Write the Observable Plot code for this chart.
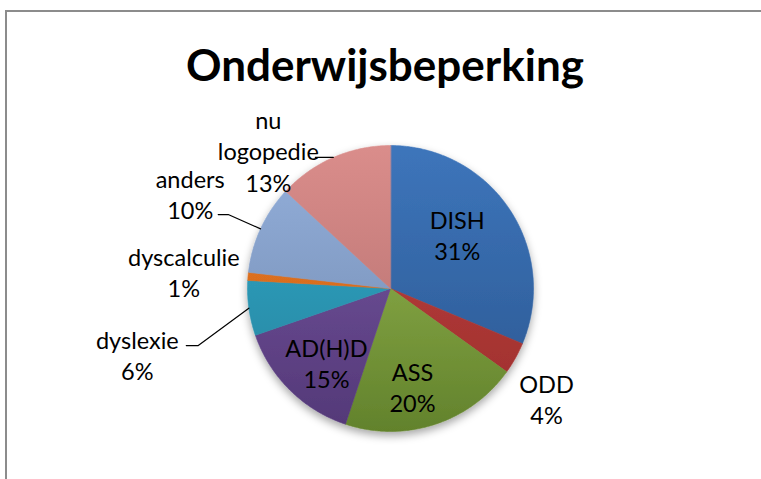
<!DOCTYPE html>
<html><head><meta charset="utf-8">
<script src="https://cdn.jsdelivr.net/npm/d3@7"></script>
<script src="https://cdn.jsdelivr.net/npm/@observablehq/plot@0.6"></script>
<style>
html,body{margin:0;padding:0;background:#fff;}
#wrap{position:relative;width:761px;height:479px;overflow:hidden;font-family:Lato,"Open Sans",sans-serif;}
#frame{position:absolute;left:5px;top:10px;width:800px;height:520px;border-top:2px solid #8c8c8c;border-left:2px solid #8c8c8c;}
#chart{position:absolute;left:0;top:0;}
#title{position:absolute;left:0;width:770px;top:37px;text-align:center;font-weight:bold;font-size:44px;line-height:54px;color:#000;}
</style></head><body>
<div id="wrap"><div id="frame"></div><div id="chart"></div><div id="title"></div></div>
<script>
// ---- data ----
const title = "Onderwijsbeperking";
const categories = ["DISH", "ODD", "ASS", "AD(H)D", "dyslexie", "dyscalculie", "anders", "nu logopedie"];
const values = [31.3, 3.6, 20.2, 14.6, 6.2, 0.9, 10.1, 13.1];
const labelNames = ["DISH", "ODD", "ASS", "AD(H)D", "dyslexie", "dyscalculie", "anders", "nu\nlogopedie"];

// ---- styles ----
const colorsTop    = ["#3d75bb", "#c0413f", "#9cbd55", "#7a59a6", "#36abca", "#ea7a24", "#94b0dc", "#da8d8b"];
const colorsBottom = ["#2b5790", "#9c2f2d", "#62822c", "#533877", "#22819c", "#c9611a", "#7088ad", "#b06c6b"];

// ---- layout ----
const W = 761, H = 479, CX = 390, CY = 288, R = 143;
const labelRadius = [0.60, 1.335, 0.70, 0.685, 1.83, 1.45, 1.55, 1.29];
const labelTurn   = [-5.3, 6, 5.3, -3.8, -6.7, -0.2, 0.7, -17.9];
const leaderFrom  = [null, null, null, null, [49, -9, 61, -9], null, [28, 21, 38, 21], [47, 7]];
const FONT = 23.5;

document.getElementById("title").textContent = title;

const arcs = d3.pie().sort(null).value(d => d)(values);
const rad = Math.PI / 180;
const polar = (a, r) => ({x: CX + r * Math.sin(a), y: CY - r * Math.cos(a)});

const slicePts = [];
arcs.forEach((a, i) => {
  slicePts.push({i, x: CX, y: CY});
  const n = Math.max(2, Math.ceil((a.endAngle - a.startAngle) / (0.5 * rad)));
  for (let k = 0; k <= n; k++) {
    const t = a.startAngle + (a.endAngle - a.startAngle) * k / n;
    slicePts.push({i, ...polar(t, R)});
  }
});

const labels = arcs.map((a, i) => {
  const mid = (a.startAngle + a.endAngle) / 2 + labelTurn[i] * rad;
  const p = polar(mid, R * labelRadius[i]);
  return {i, x: p.x, y: p.y, text: labelNames[i] + "\n" + Math.round(a.value) + "%"};
});

const leaders = [];
arcs.forEach((a, i) => {
  const f = leaderFrom[i];
  if (!f) return;
  const L = labels[i];
  leaders.push({i, x: L.x + f[0], y: L.y + f[1]});
  if (f.length > 2) leaders.push({i, x: L.x + f[2], y: L.y + f[3]});
  leaders.push({i, ...polar((a.startAngle + a.endAngle) / 2, R)});
});

const chart = Plot.plot({
  width: W, height: H,
  margin: 0,
  x: {domain: [0, W], range: [0, W], axis: null},
  y: {domain: [0, H], range: [0, H], axis: null},
  color: {type: "identity"},
  style: {background: "transparent", fontFamily: "Lato, 'Open Sans', sans-serif", overflow: "visible"},
  marks: [
    Plot.line(slicePts, {x: "x", y: "y", z: "i", curve: "linear-closed",
      fill: d => `url(#grad${d.i})`, stroke: d => `url(#grad${d.i})`, strokeWidth: 0.6}),
    Plot.line(leaders, {x: "x", y: "y", z: "i", stroke: "#000", strokeWidth: 1.2}),
    Plot.text(labels, {x: "x", y: "y", text: "text", fontSize: FONT, lineHeight: 1.33, fill: "#000", lineAnchor: "middle"})
  ]
});

const svg = d3.select(chart);
const defs = svg.insert("defs", ":first-child");
values.forEach((v, i) => {
  const g = defs.append("linearGradient").attr("id", "grad" + i)
    .attr("gradientUnits", "userSpaceOnUse")
    .attr("x1", CX).attr("y1", CY - R).attr("x2", CX).attr("y2", CY + R);
  g.append("stop").attr("offset", "0%").attr("stop-color", colorsTop[i]);
  g.append("stop").attr("offset", "100%").attr("stop-color", colorsBottom[i]);
});
const f = defs.append("filter").attr("id", "shadow").attr("x", "-20%").attr("y", "-20%").attr("width", "140%").attr("height", "140%");
f.append("feDropShadow").attr("dx", 0).attr("dy", 4).attr("stdDeviation", 4).attr("flood-color", "#000").attr("flood-opacity", 0.35);
const sliceGroup = chart.querySelector('g[aria-label="line"]');
if (sliceGroup) sliceGroup.setAttribute("filter", "url(#shadow)");

document.getElementById("chart").appendChild(chart);
</script>
</body></html>
